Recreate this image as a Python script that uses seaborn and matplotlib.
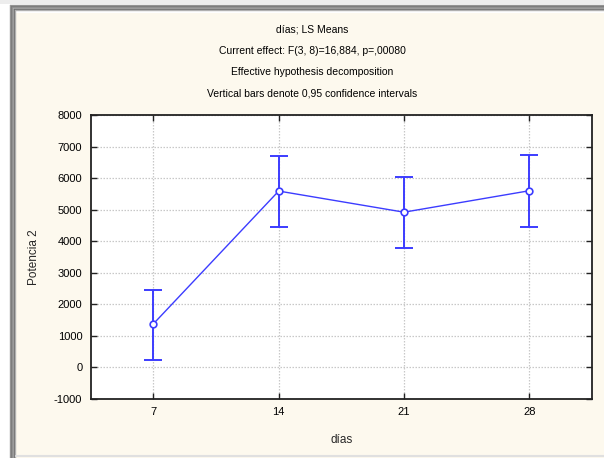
import matplotlib
matplotlib.use("Agg")
import matplotlib.pyplot as plt
import seaborn as sns
import numpy as np
import pandas as pd
from matplotlib.patches import Rectangle
from matplotlib.lines import Line2D

# Data
dias = [7, 14, 21, 28]
means = [1380, 5590, 4920, 5600]
lower = [240, 4460, 3770, 4460]
upper = [2470, 6710, 6050, 6740]
yticks = [-1000, 0, 1000, 2000, 3000, 4000, 5000, 6000, 7000, 8000]
titles = ["días; LS Means",
          "Current effect: F(3, 8)=16,884, p=,00080",
          "Effective hypothesis decomposition",
          "Vertical bars denote 0,95 confidence intervals"]

sns.set_theme(style="white")
plt.rcParams['font.family'] = ['Liberation Sans', 'DejaVu Sans']

W, H = 604, 458
fig = plt.figure(figsize=(W / 100, H / 100), dpi=100)
bg = "#FDF9EE"
fig.patch.set_facecolor("white")

# window background and frame
fig.patches.append(Rectangle((16 / W, 0), 1 - 16 / W, 1 - 13 / H, transform=fig.transFigure,
                             facecolor=bg, edgecolor="none", zorder=-10))
fig.patches.append(Rectangle((0, 1 - 4 / H), 1, 4 / H, transform=fig.transFigure,
                             facecolor="#EDEDED", edgecolor="none", zorder=-9))
for i, c in enumerate(["#9a9a9a", "#7a7a7a", "#8c8c8c", "#a8a8a8", "#6e6e6e", "#b0b0b0"]):
    y = 1 - (5 + i) / H
    x = (10 + i) / W
    fig.lines.append(Line2D([x, 1], [y, y], transform=fig.transFigure, color=c, lw=1.0))
    fig.lines.append(Line2D([x, x], [0, y], transform=fig.transFigure, color=c, lw=1.0))
fig.lines.append(Line2D([16 / W, 1], [2 / H, 2 / H], transform=fig.transFigure, color="#e0e0e0", lw=1.5))

ax = fig.add_axes([90.7 / W, 1 - 399 / H, (592 - 90.7) / W, (399 - 115) / H])
ax.set_facecolor("white")

df = pd.DataFrame({"dias": dias, "mean": means, "lo": lower, "hi": upper})
blue = "#3C3CFF"
yerr = [np.array(means) - np.array(lower), np.array(upper) - np.array(means)]
ax.errorbar(df["dias"], df["mean"], yerr=yerr, fmt="none", ecolor=blue, elinewidth=1.4,
            capsize=6.5, capthick=1.4, zorder=3)
sns.lineplot(data=df, x="dias", y="mean", ax=ax, color=blue, lw=1.0, marker="o",
             markersize=4.8, markerfacecolor="white", markeredgecolor=blue,
             markeredgewidth=1.2, zorder=4)

ax.set_xlim(3.5, 31.5)
ax.set_ylim(-1000, 8000)
ax.set_xticks(dias)
ax.set_xticklabels([str(d) for d in dias])
ax.set_yticks(yticks)
ax.set_yticklabels([str(v) for v in yticks])
ax.grid(True, color="#c8c8c8", linestyle=(0, (1.2, 1.2)), linewidth=0.9)
ax.set_axisbelow(True)
for s in ax.spines.values():
    s.set_visible(True)
    s.set_color("#222222")
    s.set_linewidth(1.3)
ax.tick_params(axis="both", which="both", direction="in", length=4, width=1.0,
               color="#222222", labelsize=8, labelcolor="black", pad=6,
               top=True, right=True, left=True, bottom=True)
ax.set_xlabel("días", fontsize=8.5, labelpad=12)
ax.set_ylabel("Potencia 2", fontsize=8.5, labelpad=10)

for i, t in enumerate(titles):
    fig.text(312 / W, 1 - (30 + 21 * i) / H, t, ha="center", va="center", fontsize=7.5, color="black")

fig.savefig("out.png", dpi=100, facecolor=fig.get_facecolor())
